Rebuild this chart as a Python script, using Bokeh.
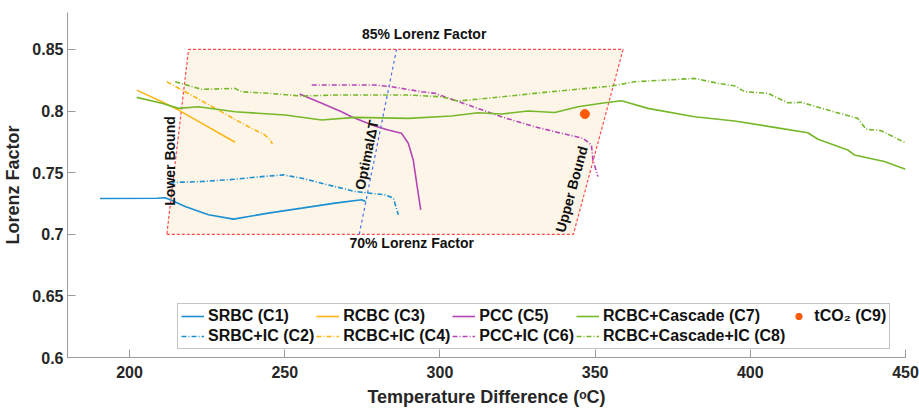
from bokeh.plotting import figure
from bokeh.models import (Legend, LegendItem, FixedTicker, CustomJSTickFormatter,
                          ColumnDataSource)
from bokeh.core.properties import value
from bokeh.embed import file_html
from bokeh.resources import INLINE

# ---- data: Lorenz factor vs. temperature difference ----
srbc_x = [190.5, 208.8, 211.4, 213.1, 217.9, 225.4, 233.5, 244.7, 255.5, 266.2, 274.8, 276.0]
srbc_y = [0.729, 0.7293, 0.7297, 0.728, 0.7225, 0.7158, 0.7123, 0.7172, 0.7212, 0.7253, 0.728, 0.7266]

srbc_ic_x = [213.1, 214.2, 223.3, 234.0, 242.6, 249.6, 255.5, 266.2, 272.6, 282.3, 285.0, 286.6]
srbc_ic_y = [0.7406, 0.742, 0.7428, 0.7447, 0.7468, 0.7482, 0.7455, 0.7387, 0.7347, 0.732, 0.7293, 0.7158]

rcbc_x = [202.3, 210.4, 215.8, 223.3, 234.0]
rcbc_y = [0.817, 0.8076, 0.8008, 0.790, 0.7747]

rcbc_ic_x = [212.0, 217.9, 227.6, 237.2, 243.6, 245.3, 246.0]
rcbc_ic_y = [0.8238, 0.8157, 0.8022, 0.7887, 0.7806, 0.7765, 0.7734]

pcc_x = [254.8, 261.9, 268.3, 271.5, 279.0, 283.3, 287.6, 289.8, 291.4, 292.5, 293.8]
pcc_y = [0.8138, 0.8063, 0.7995, 0.7954, 0.7879, 0.7846, 0.782, 0.7739, 0.7603, 0.7415, 0.7198]

pcc_ic_x = [258.7, 268.3, 279.0, 284.5, 294.1, 298.4, 309.1, 319.8, 330.5, 339.1, 346.1, 348.8, 349.3, 350.9]
pcc_ic_y = [0.8211, 0.8211, 0.8211, 0.8197, 0.8157, 0.8144, 0.8049, 0.7954, 0.7873, 0.782, 0.7779, 0.7725, 0.7603, 0.7468]

casc_x = [202.3, 210.4, 215.8, 222.2, 234.0, 250.1, 261.9, 272.6, 289.8, 303.7, 312.3, 319.8,
          328.4, 337.0, 344.5, 352.0, 358.5, 367.0, 382.0, 394.9, 407.8, 418.5, 421.8, 431.4,
          433.5, 443.2, 450.0]
casc_y = [0.8111, 0.8063, 0.8022, 0.8035, 0.7995, 0.7968, 0.7927, 0.7949, 0.7941, 0.796, 0.7986, 0.7976,
          0.800, 0.7989, 0.8035, 0.8063, 0.8084, 0.8022, 0.7954, 0.7919, 0.7868, 0.7824, 0.7771, 0.7684,
          0.7644, 0.759, 0.7528]

casc_ic_x = [214.7, 223.3, 234.0, 236.1, 244.7, 255.5, 266.2, 273.7, 289.8, 300.5, 305.9, 319.8,
             335.9, 355.2, 362.7, 382.0, 389.6, 394.9, 398.2, 405.7, 412.1, 416.4, 425.0, 434.6,
             437.3, 442.1, 450.0]
casc_ic_y = [0.8238, 0.8176, 0.8184, 0.8157, 0.8144, 0.8122, 0.813, 0.813, 0.813, 0.8116, 0.8081, 0.8116,
             0.8157, 0.8203, 0.8238, 0.8265, 0.8225, 0.8205, 0.8157, 0.8144, 0.8067, 0.8071, 0.8008, 0.7941,
             0.7852, 0.7841, 0.7743]

tco2_x = [346.7]
tco2_y = [0.7976]

# feasible region: Lorenz factor band and temperature-difference bounds
lorenz_band = [0.70, 0.85]
lower_bound_dt = [212.0, 219.0]
upper_bound_dt = [343.0, 359.0]
optimal_dt = [274.0, 286.0]

x_ticks = [200, 250, 300, 350, 400, 450]
y_ticks = [0.6, 0.65, 0.7, 0.75, 0.8, 0.85]

FONT = "Liberation Sans"
C_BLUE = "#1B8FD2"
C_YEL = "#FDB515"
C_PUR = "#B545B5"
C_GRN = "#76B82A"
C_ORA = "#FF5A0A"
DASHDOT = "5 2 1 2"

p = figure(width=919, height=409, x_range=(180, 450), y_range=(0.6, 0.88),
           output_backend="svg", toolbar_location=None,
           min_border_left=65, min_border_right=14, min_border_top=12, min_border_bottom=52)
p.outline_line_color = None
p.grid.visible = False
p.background_fill_color = "white"

# shaded feasible region
p.patch([lower_bound_dt[0], upper_bound_dt[0], upper_bound_dt[1], lower_bound_dt[1]],
        [lorenz_band[0], lorenz_band[0], lorenz_band[1], lorenz_band[1]],
        fill_color="#FDF6E8", line_color="#FF4B4B", line_width=1.2, line_dash="3 2")
p.line(optimal_dt, lorenz_band, line_color="#4A6CF0", line_width=1.2, line_dash="3 3")

# curves
r1 = p.line(srbc_x, srbc_y, line_color=C_BLUE, line_width=1.6)
r2 = p.line(srbc_ic_x, srbc_ic_y, line_color=C_BLUE, line_width=1.6, line_dash=DASHDOT)
r3 = p.line(rcbc_x, rcbc_y, line_color=C_YEL, line_width=1.6)
r4 = p.line(rcbc_ic_x, rcbc_ic_y, line_color=C_YEL, line_width=1.6, line_dash=DASHDOT)
r5 = p.line(pcc_x, pcc_y, line_color=C_PUR, line_width=1.6)
r6 = p.line(pcc_ic_x, pcc_ic_y, line_color=C_PUR, line_width=1.6, line_dash=DASHDOT)
r7 = p.line(casc_x, casc_y, line_color=C_GRN, line_width=1.6)
r8 = p.line(casc_ic_x, casc_ic_y, line_color=C_GRN, line_width=1.6, line_dash=DASHDOT)
r9 = p.scatter(tco2_x, tco2_y, size=9, fill_color=C_ORA, line_color=C_ORA)

# region annotations
labels = ColumnDataSource(dict(
    x=[294.9, 290.9, 213.1, 276.4, 342.4],
    y=[0.8624, 0.6933, 0.7595, 0.7644, 0.7366],
    t=["85% Lorenz Factor", "70% Lorenz Factor", "Lower Bound", "Optimal\u0394T", "Upper Bound"],
    a=[0.0, 0.0, 1.5708, 1.372, 1.307],
))
p.text(x="x", y="y", text="t", angle="a", source=labels, text_font=value(FONT),
       text_font_size="14px", text_font_style="bold", text_color="#111111",
       text_align="center", text_baseline="middle")

# axes
for ax in (p.xaxis[0], p.yaxis[0]):
    ax.axis_line_color = "#9A9A9A"
    ax.major_tick_line_color = "#9A9A9A"
    ax.major_tick_in = 8
    ax.major_tick_out = 0
    ax.minor_tick_line_color = None
    ax.major_label_text_font = FONT
    ax.major_label_text_font_size = "16px"
    ax.major_label_text_font_style = "bold"
    ax.major_label_text_color = "#262626"
    ax.axis_label_text_font = FONT
    ax.axis_label_text_font_size = "18px"
    ax.axis_label_text_font_style = "bold"
    ax.axis_label_text_color = "#262626"

p.xaxis.ticker = FixedTicker(ticks=x_ticks)
p.yaxis.ticker = FixedTicker(ticks=y_ticks)
p.yaxis.formatter = CustomJSTickFormatter(code="return tick.toFixed(2).replace(/0$/, '');")
p.xaxis.axis_label = "Temperature Difference (\u1d52C)"
p.yaxis.axis_label = "Lorenz Factor"
p.xaxis.major_label_standoff = 8
p.yaxis.major_label_standoff = 4
p.xaxis.axis_label_standoff = 6
p.yaxis.axis_label_standoff = 6

legend = Legend(items=[
    LegendItem(label="SRBC (C1)", renderers=[r1]),
    LegendItem(label="SRBC+IC (C2)", renderers=[r2]),
    LegendItem(label="RCBC (C3)", renderers=[r3]),
    LegendItem(label="RCBC+IC (C4)", renderers=[r4]),
    LegendItem(label="PCC (C5)", renderers=[r5]),
    LegendItem(label="PCC+IC (C6)", renderers=[r6]),
    LegendItem(label="RCBC+Cascade (C7)", renderers=[r7]),
    LegendItem(label="RCBC+Cascade+IC (C8)", renderers=[r8]),
    LegendItem(label="tCO\u2082 (C9)", renderers=[r9]),
], orientation="vertical", nrows=2, location=(110, 8))
legend.label_text_font = FONT
legend.label_text_font_size = "16px"
legend.label_text_font_style = "bold"
legend.label_text_color = "#111111"
legend.glyph_width = 23
legend.glyph_height = 16
legend.label_height = 16
legend.label_standoff = 4
legend.spacing = 2
legend.padding = 3
legend.margin = 0
legend.border_line_color = "#8C8C8C"
legend.border_line_width = 1
legend.background_fill_alpha = 1.0
p.add_layout(legend, "center")

open("out.html", "w").write(file_html(p, INLINE))
